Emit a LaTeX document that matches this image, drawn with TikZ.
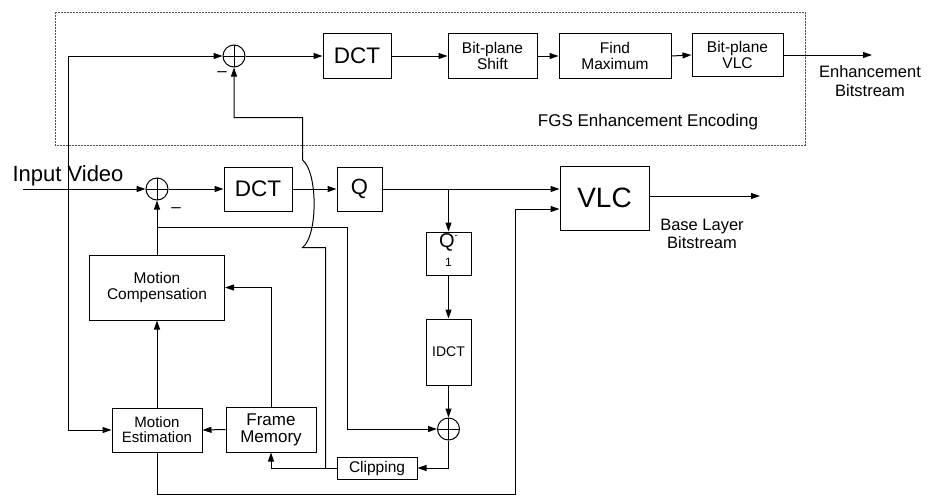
\documentclass[tikz,border=0pt]{standalone}
\usepackage{fontspec}
\setmainfont{Liberation Sans}
\usetikzlibrary{arrows.meta}
\newcommand{\fs}[1]{\fontsize{#1}{#1}\selectfont}
\begin{document}
\begin{tikzpicture}[x=1pt,y=-1pt,line width=1pt,
  blk/.style={draw,rectangle,inner sep=0pt,align=center},
  sumnode/.style={draw,circle,inner sep=0pt,minimum size=22pt,
    path picture={\draw[line width=0.7pt] (path picture bounding box.north) -- (path picture bounding box.south)
      (path picture bounding box.west) -- (path picture bounding box.east);}},
  arr/.style={-{Triangle[length=9pt,width=6pt]}},
  lbl/.style={inner sep=0pt,align=center}]
\useasboundingbox (0,0) rectangle (928,496);
% dashed frame
\draw[dash pattern=on 2pt off 1pt,line width=0.6pt,black!70] (55,12) rectangle (805,145);
% top row
\node[sumnode] (sum1) at (234,56) {};
\node[blk,minimum width=68pt,minimum height=45pt,font=\fs{22.5}] (dct1) at (357,56) {DCT};
\node[blk,minimum width=89pt,minimum height=45pt,font=\fs{15.5}] (shift) at (492.5,56) {Bit-plane\\Shift};
\node[blk,minimum width=112pt,minimum height=45pt,font=\fs{15.5}] (findmax) at (615,56) {Find\\Maximum};
\node[blk,minimum width=91pt,minimum height=43pt,font=\fs{15.5}] (bvlc) at (737.5,55) {Bit-plane\\VLC};
\coordinate (eout) at (872,55);
\node[lbl,font=\fs{16.5},align=center] (elbl) at (870,81) {Enhancement\\[2pt]Bitstream};
\node[lbl,font=\fs{17}] (fgs) at (648,122) {FGS Enhancement Encoding};
\node[lbl,font=\fs{17}] (m1) at (222,74) {--};
% main row
\node[lbl,font=\fs{22}] (invid) at (68,176) {Input Video};
\coordinate (in) at (23,189);
\node[sumnode] (sum0) at (157,189) {};
\node[lbl,font=\fs{17}] (m2) at (176,210) {--};
\node[blk,minimum width=68pt,minimum height=44pt,font=\fs{22.5}] (dct2) at (258,189) {DCT};
\node[blk,minimum width=45pt,minimum height=44pt,font=\fs{22}] (q) at (359.5,189) {Q};
\node[blk,minimum width=89pt,minimum height=64pt,font=\fs{28}] (vlc) at (604.5,198) {VLC};
\coordinate (bout) at (760,196);
\node[lbl,font=\fs{16.5}] (blbl) at (702,234) {Base Layer\\[2pt]Bitstream};
% reconstruction column
\node[blk,minimum width=45pt,minimum height=43pt] (qinv) at (448.5,253.5) {};
\node[lbl,font=\fs{20}] (qtxt) at (448.5,242) {Q\raisebox{0.45em}{\fs{10}-}};
\node[lbl,font=\fs{12}] (qone) at (448.5,262) {1};
\node[blk,minimum width=45pt,minimum height=66pt,font=\fs{14}] (idct) at (448.5,352) {IDCT};
\node[sumnode] (sum2) at (448.5,429) {};
\node[blk,minimum width=80pt,minimum height=22pt,font=\fs{15.5}] (clip) at (377,468) {Clipping};
\node[blk,minimum width=90pt,minimum height=45pt,font=\fs{17}] (fm) at (271,429.5) {Frame\\Memory};
\node[blk,minimum width=90pt,minimum height=44pt,font=\fs{15}] (me) at (157,430) {Motion\\Estimation};
\node[blk,minimum width=135pt,minimum height=65pt,font=\fs{15.5}] (mc) at (157,287.5) {Motion\\Compensation};
% coordinates
\coordinate (lv) at (68,56);
\coordinate (b2) at (157,227);
\coordinate (k) at (347,227);
\coordinate (mb) at (515,494);
\coordinate (j1) at (325.5,468);
\coordinate (ja) at (325.5,247.5);
\coordinate (jb) at (302.5,247.5);
\coordinate (jc) at (302.5,160);
\coordinate (jd) at (302.5,117.5);
% top connectors
\draw[arr] (lv) -- (sum1.west);
\draw[arr] (lv) |- (me.west);
\draw[arr] (sum1.east) -- (dct1.west);
\draw[arr] (dct1.east) -- (shift.west);
\draw[arr] (shift.east) -- (findmax.west);
\draw[arr] (findmax.east) -- (bvlc.west);
\draw[arr] (bvlc.east) -- (eout);
% feedback to top subtractor with hop
\draw[arr] (j1) -- (ja) -- (jb) .. controls (318,236) and (318,172) .. (jc) -- (jd) -| (sum1.south);
% main row connectors
\draw[arr] (in) -- (sum0.west);
\draw[arr] (sum0.east) -- (dct2.west);
\draw[arr] (dct2.east) -- (q.west);
\draw[arr] (q.east) -- (q.east -| vlc.west);
\draw[arr] (q.east -| qinv.north) -- (qinv.north);
\draw[arr] (vlc.east |- bout) -- (bout);
% reconstruction
\draw[arr] (qinv.south) -- (idct.north);
\draw[arr] (idct.south) -- (sum2.north);
\draw[arr] (sum2.south) |- (clip.east);
\draw[arr] (clip.west) -| (fm.south);
\draw[arr] (fm.west) -- (me.east);
\draw[arr] (me.north) -- (mc.south);
\draw[arr] (fm.north) |- (mc.east);
\draw[arr] (mc.north) -- (sum0.south);
\draw[arr] (b2) -- (k) |- (sum2.west);
\draw[arr] (me.south) |- (mb) |- ([yshift=-11pt]vlc.west);
\end{tikzpicture}
\end{document}
